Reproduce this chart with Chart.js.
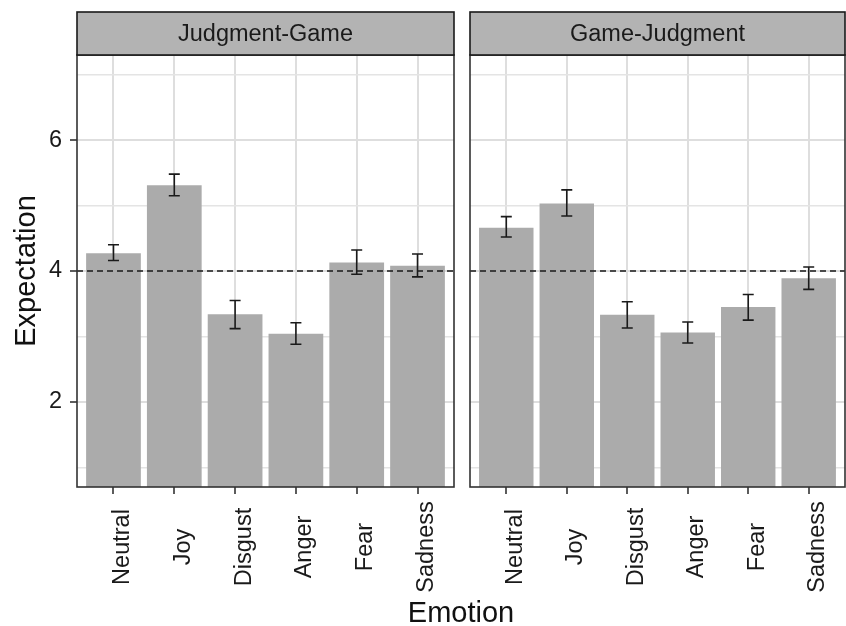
<!DOCTYPE html>
<html>
<head>
<meta charset="utf-8">
<script src="https://cdn.jsdelivr.net/npm/chart.js@4.4.1/dist/chart.umd.min.js"></script>
<style>
  body { margin: 0; background: #fff; }
  #wrap { position: relative; width: 846px; height: 626px; overflow: hidden; }
  canvas { position: absolute; top: 0; }
  #left { left: 0; }
  #right { left: 462px; }
  #xtitle {
    position: absolute; left: 77px; width: 768px; top: 598px;
    text-align: center; font: 29px "Liberation Sans", Arial, sans-serif;
    line-height: 29px; color: #111;
  }
</style>
</head>
<body>
<div id="wrap">
  <canvas id="left" width="462" height="626"></canvas>
  <canvas id="right" width="384" height="626"></canvas>
  <div id="xtitle">Emotion</div>
</div>
<script>
// Categories and facet names
var emotions = ['Neutral', 'Joy', 'Disgust', 'Anger', 'Fear', 'Sadness'];
var panels = ['Judgment-Game', 'Game-Judgment'];

// Judgment-Game: mean and error bar ends
var jgMean = [4.27, 5.31, 3.34, 3.04, 4.13, 4.08];
var jgLow  = [4.16, 5.15, 3.12, 2.88, 3.95, 3.91];
var jgHigh = [4.40, 5.48, 3.55, 3.21, 4.32, 4.26];

// Game-Judgment: mean and error bar ends
var gjMean = [4.66, 5.03, 3.33, 3.06, 3.45, 3.89];
var gjLow  = [4.52, 4.84, 3.13, 2.90, 3.25, 3.72];
var gjHigh = [4.83, 5.24, 3.53, 3.22, 3.64, 4.06];

// Y axis ticks (labelled) and minor grid values
var yTicks = [2, 4, 6];
var yMinor = [1, 3, 5, 7];
var refLine = 4;

var FONT = '"Liberation Sans", Arial, sans-serif';
Chart.defaults.font.family = FONT;

// Error bars drawn through the chart's own scales
var errorBars = {
    id: 'errorBars',
    afterDatasetsDraw: function(chart, args, opts) {
        var ctx = chart.ctx, xs = chart.scales.x, ys = chart.scales.y;
        ctx.save();
        ctx.strokeStyle = '#1a1a1a';
        ctx.lineWidth = 1.6;
        opts.low.forEach(function(lo, i) {
            var x = xs.getPixelForValue(i + 1);
            var y1 = ys.getPixelForValue(lo);
            var y2 = ys.getPixelForValue(opts.high[i]);
            ctx.beginPath();
            ctx.moveTo(x, y1); ctx.lineTo(x, y2);
            ctx.moveTo(x - 5.5, y1); ctx.lineTo(x + 5.5, y1);
            ctx.moveTo(x - 5.5, y2); ctx.lineTo(x + 5.5, y2);
            ctx.stroke();
        });
        // dashed reference line
        var yr = ys.getPixelForValue(refLine);
        var a = chart.chartArea;
        ctx.setLineDash([6, 4]);
        ctx.lineWidth = 1.4;
        ctx.beginPath();
        ctx.moveTo(a.left, yr); ctx.lineTo(a.right, yr);
        ctx.stroke();
        ctx.restore();
    }
};

// Panel border, facet strip and rotated x labels
var facet = {
    id: 'facet',
    afterDraw: function(chart, args, opts) {
        var ctx = chart.ctx, a = chart.chartArea, xs = chart.scales.x;
        ctx.save();
        ctx.strokeStyle = '#333';
        ctx.lineWidth = 1.6;
        ctx.strokeRect(a.left, a.top, a.right - a.left, a.bottom - a.top);

        // strip
        ctx.fillStyle = '#b3b3b3';
        ctx.fillRect(a.left, 12, a.right - a.left, a.top - 12);
        ctx.strokeStyle = '#1a1a1a';
        ctx.strokeRect(a.left, 12, a.right - a.left, a.top - 12);
        ctx.fillStyle = '#1a1a1a';
        ctx.font = '23.5px ' + FONT;
        ctx.textAlign = 'center';
        ctx.textBaseline = 'middle';
        ctx.fillText(opts.title, (a.left + a.right) / 2, (12 + a.top) / 2 + 1);

        // x labels, centred vertically like ggplot
        emotions.forEach(function(name, i) {
            var x = xs.getPixelForValue(i + 1) + 9;
            ctx.save();
            ctx.translate(x, 547);
            ctx.rotate(-Math.PI / 2);
            ctx.fillText(name, 0, 0);
            ctx.restore();
        });
        ctx.restore();
    }
};

function makePanel(id, title, mean, low, high, isLeft) {
    var ctx = document.getElementById(id).getContext('2d');
    return new Chart(ctx, {
        type: 'bar',
        data: {
            datasets: [{
                data: mean.map(function(v, i) { return { x: i + 1, y: v }; }),
                backgroundColor: '#ababab',
                borderWidth: 0,
                barPercentage: 0.9,
                categoryPercentage: 1
            }]
        },
        options: {
            responsive: false,
            animation: false,
            layout: { padding: { top: 55, right: isLeft ? 8 : 1, left: 0, bottom: 0 } },
            plugins: {
                legend: { display: false },
                tooltip: { enabled: false },
                errorBars: { low: low, high: high },
                facet: { title: title }
            },
            scales: {
                x: {
                    type: 'linear',
                    min: 0.4,
                    max: 6.6,
                    offset: false,
                    afterBuildTicks: function(s) {
                        s.ticks = emotions.map(function(e, i) { return { value: i + 1 }; });
                    },
                    afterFit: function(s) { s.height = 139; },
                    ticks: { display: false },
                    grid: {
                        offset: false,
                        color: '#dedede',
                        lineWidth: 2,
                        tickColor: '#333',
                        tickLength: 7,
                        tickWidth: 1.6
                    },
                    border: { display: false }
                },
                y: {
                    min: 0.7,
                    max: 7.3,
                    afterBuildTicks: function(s) {
                        s.ticks = yMinor.concat(yTicks).sort().map(function(v) { return { value: v }; });
                    },
                    afterFit: function(s) { s.width = isLeft ? 77 : 8; },
                    ticks: {
                        display: isLeft,
                        padding: 8,
                        color: '#1a1a1a',
                        font: { size: 23.5 },
                        callback: function(v) { return yTicks.indexOf(v) >= 0 ? v : ''; }
                    },
                    grid: {
                        color: function(c) { return yTicks.indexOf(c.tick.value) >= 0 ? '#dedede' : '#e4e4e4'; },
                        lineWidth: function(c) { return yTicks.indexOf(c.tick.value) >= 0 ? 2 : 1.5; },
                        tickColor: function(c) { return isLeft && yTicks.indexOf(c.tick.value) >= 0 ? '#333' : 'rgba(0,0,0,0)'; },
                        drawTicks: isLeft,
                        tickLength: 7,
                        tickWidth: 1.6
                    },
                    border: { display: false },
                    title: {
                        display: isLeft,
                        text: 'Expectation',
                        color: '#111',
                        font: { size: 29, lineHeight: 1 },
                        padding: { top: 12, bottom: 0 }
                    }
                }
            }
        },
        plugins: [errorBars, facet]
    });
}

makePanel('left', panels[0], jgMean, jgLow, jgHigh, true);
makePanel('right', panels[1], gjMean, gjLow, gjHigh, false);
</script>
</body>
</html>
